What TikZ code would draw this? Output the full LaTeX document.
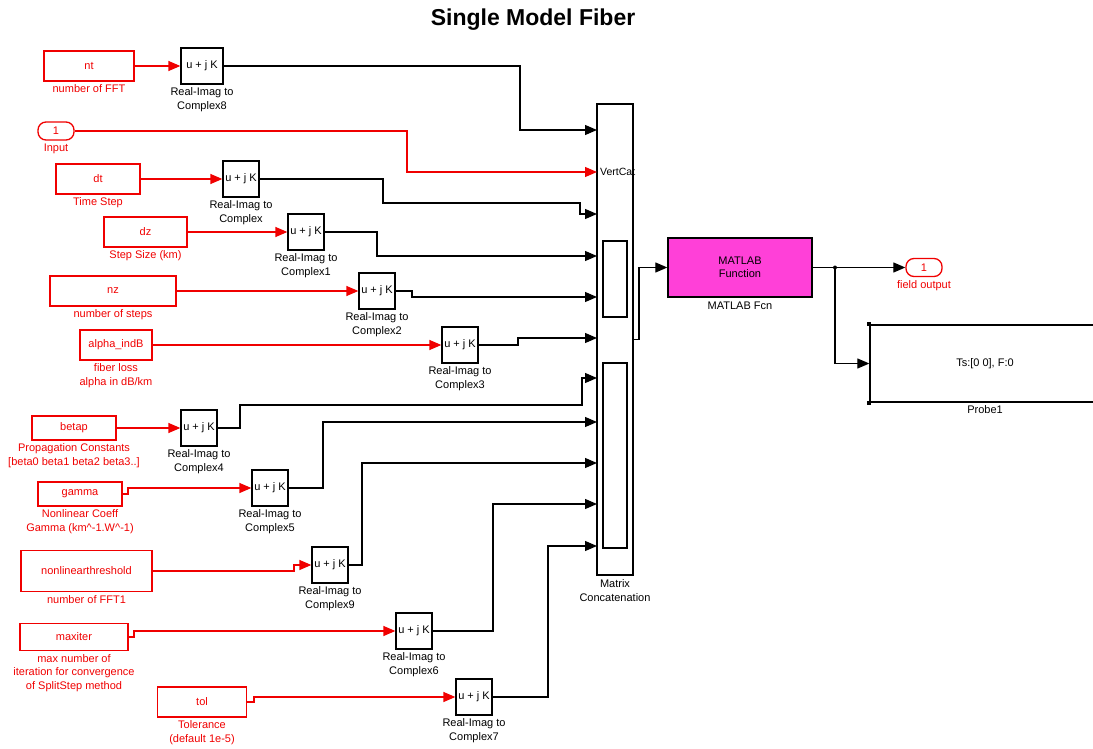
\documentclass[tikz,border=0pt]{standalone}
\usepackage{fontspec}
\setmainfont{Liberation Sans}
\usetikzlibrary{arrows.meta, positioning}
\definecolor{slred}{RGB}{240,0,0}
\definecolor{slmagenta}{RGB}{255,64,216}

\begin{document}
\begin{tikzpicture}[x=1pt, y=-1pt,
    font=\fontsize{11}{13.5}\selectfont,
    src/.style={draw=slred, line width=1.3pt, text=slred, inner sep=0pt},
    port/.style={src, rounded corners=8pt, minimum width=36pt, minimum height=18pt},
    cplx/.style={draw, line width=1.3pt, minimum width=36pt, minimum height=36pt, inner sep=0pt},
    rlbl/.style={text=slred, align=center, inner sep=0pt},
    blbl/.style={align=center, inner sep=0pt},
    rarr/.style={-{Triangle[length=12pt, width=10pt]}, draw=slred, line width=1.3pt},
    barr/.style={-{Triangle[length=12pt, width=10pt]}, line width=1.2pt}
  ]
    \useasboundingbox (0,0) rectangle (1093,749);
    \node[font=\bfseries\fontsize{23}{27}\selectfont] (title) at (533,20) {Single Model Fiber};

    \node[src, minimum width=90pt, minimum height=30pt] (nt) at (89,66) {nt};
    \node[rlbl, below=3pt of nt] (ntlbl) {number of FFT};
    \node[port] (inp) at (56,131) {1};
    \node[rlbl, below=3pt of inp] (inplbl) {Input};
    \node[src, minimum width=84pt, minimum height=30pt] (dt) at (98,179) {dt};
    \node[rlbl, below=3pt of dt] (dtlbl) {Time Step};
    \node[src, minimum width=83pt, minimum height=30pt] (dz) at (145.5,232) {dz};
    \node[rlbl, below=3pt of dz] (dzlbl) {Step Size (km)};
    \node[src, minimum width=126pt, minimum height=30pt] (nz) at (113,291) {nz};
    \node[rlbl, below=3pt of nz] (nzlbl) {number of steps};
    \node[src, minimum width=72pt, minimum height=30pt] (alpha) at (116,345) {alpha\_indB};
    \node[rlbl, below=3pt of alpha] (alphalbl) {fiber loss\\alpha in dB/km};
    \node[src, minimum width=84pt, minimum height=24pt] (betap) at (74,428) {betap};
    \node[rlbl, below=3pt of betap] (betaplbl) {Propagation Constants\\{}[beta0 beta1 beta2 beta3..]};
    \node[src, minimum width=84pt, minimum height=24pt] (gamma) at (80,494) {gamma};
    \node[rlbl, below=3pt of gamma] (gammalbl) {Nonlinear Coeff\\Gamma (km\textasciicircum-1.W\textasciicircum-1)};
    \node[src, minimum width=131pt, minimum height=41pt] (nonlin) at (86.5,571) {nonlinearthreshold};
    \node[rlbl, below=3pt of nonlin] (nonlinlbl) {number of FFT1};
    \node[src, minimum width=108pt, minimum height=27pt] (maxiter) at (74,637) {maxiter};
    \node[rlbl, below=3pt of maxiter] (maxiterlbl) {max number of\\iteration for convergence\\of SplitStep method};
    \node[src, minimum width=89pt, minimum height=30pt] (tol) at (202,702) {tol};
    \node[rlbl, below=3pt of tol] (tollbl) {Tolerance\\(default 1e-5)};

    \node[cplx, minimum width=42pt] (c8) at (202,66) {u + j K};
    \node[blbl, below=3pt of c8] {Real-Imag to\\Complex8};
    \node[cplx] (c) at (241,179) {u + j K};
    \node[blbl, below=3pt of c] {Real-Imag to\\Complex};
    \node[cplx] (c1) at (306,232) {u + j K};
    \node[blbl, below=3pt of c1] {Real-Imag to\\Complex1};
    \node[cplx] (c2) at (377,291) {u + j K};
    \node[blbl, below=3pt of c2] {Real-Imag to\\Complex2};
    \node[cplx] (c3) at (460,345) {u + j K};
    \node[blbl, below=3pt of c3] {Real-Imag to\\Complex3};
    \node[cplx] (c4) at (199,428) {u + j K};
    \node[blbl, below=3pt of c4] {Real-Imag to\\Complex4};
    \node[cplx] (c5) at (270,488) {u + j K};
    \node[blbl, below=3pt of c5] {Real-Imag to\\Complex5};
    \node[cplx] (c9) at (330,565) {u + j K};
    \node[blbl, below=3pt of c9] {Real-Imag to\\Complex9};
    \node[cplx] (c6) at (414,631) {u + j K};
    \node[blbl, below=3pt of c6] {Real-Imag to\\Complex6};
    \node[cplx] (c7) at (474,697) {u + j K};
    \node[blbl, below=3pt of c7] {Real-Imag to\\Complex7};

    \node[draw, line width=1.3pt, minimum width=36pt, minimum height=471pt, inner sep=0pt] (cat) at (615,339.5) {};
    \draw[line width=1.2pt] (603,241) rectangle (627,317);
    \draw[line width=1.2pt] (603,363) rectangle (627,548);
    \node[anchor=west, inner sep=0pt, font=\fontsize{10.5}{12}\selectfont] (vcat) at (600,172) {VertCat};
    \node[blbl, below=4pt of cat] (catlbl) {Matrix\\Concatenation};
    \foreach \yy [count=\i] in {130,172,214,256,297,338,378,422,463,504,546}
      \coordinate (in\i) at (597,\yy);

    \node[draw, line width=1.3pt, fill=slmagenta, minimum width=144pt, minimum height=59pt, align=center, inner sep=0pt] (mlf) at (740,267.5) {MATLAB\\Function};
    \node[blbl, below=4pt of mlf] (mlflbl) {MATLAB Fcn};
    \node[port] (outp) at (924,267.5) {1};
    \node[rlbl, below=3pt of outp] (outplbl) {field output};
    \node[draw, line width=1.3pt, minimum width=230pt, minimum height=77pt, inner sep=0pt] (probe) at (985,363.5) {Ts:[0 0], F:0};
    \node[blbl, below=3pt of probe] (probelbl) {Probe1};
    \fill (probe.north west) ++(-2,-2) rectangle ++(4,4);
    \fill (probe.south west) ++(-2,-2) rectangle ++(4,4);
    \coordinate (jn) at (835,267.5);

    \draw[rarr] (nt.east) -- (c8.west);
    \draw[rarr] (dt.east) -- (c.west);
    \draw[rarr] (dz.east) -- (c1.west);
    \draw[rarr] (nz.east) -- (c2.west);
    \draw[rarr] (alpha.east) -- (c3.west);
    \draw[rarr] (betap.east) -- (c4.west);
    \draw[rarr] (gamma.east) -- (128,494) |- (c5.west);
    \draw[rarr] (nonlin.east) -- (294,571) |- (c9.west);
    \draw[rarr] (maxiter.east) -- (134,637) |- (c6.west);
    \draw[rarr] (tol.east) -- (254,702) |- (c7.west);

    \draw[barr] (c8.east) -- (520,66) |- (in1);
    \draw[rarr] (inp.east) -- (407,131) |- (in2);
    \draw[barr] (c.east) -- (383,179) |- (580,203) |- (in3);
    \draw[barr] (c1.east) -- (377,232) |- (in4);
    \draw[barr] (c2.east) -- (412,291) |- (in5);
    \draw[barr] (c3.east) -- (518,345) |- (in6);
    \draw[barr] (c4.east) -- (240,428) |- (582,405) |- (in7);
    \draw[barr] (c5.east) -- (323,488) |- (in8);
    \draw[barr] (c9.east) -- (362,565) |- (in9);
    \draw[barr] (c6.east) -- (493,631) |- (in10);
    \draw[barr] (c7.east) -- (548,697) |- (in11);

    \draw[barr] (cat.east) -- (639,339.5) |- (mlf.west);
    \draw[line width=1.2pt] (mlf.east) -- (jn);
    \draw[barr] (jn) -- (outp.west);
    \draw[barr] (jn) |- (probe.west);
    \fill (jn) circle (2);
  \end{tikzpicture}
\end{document}
